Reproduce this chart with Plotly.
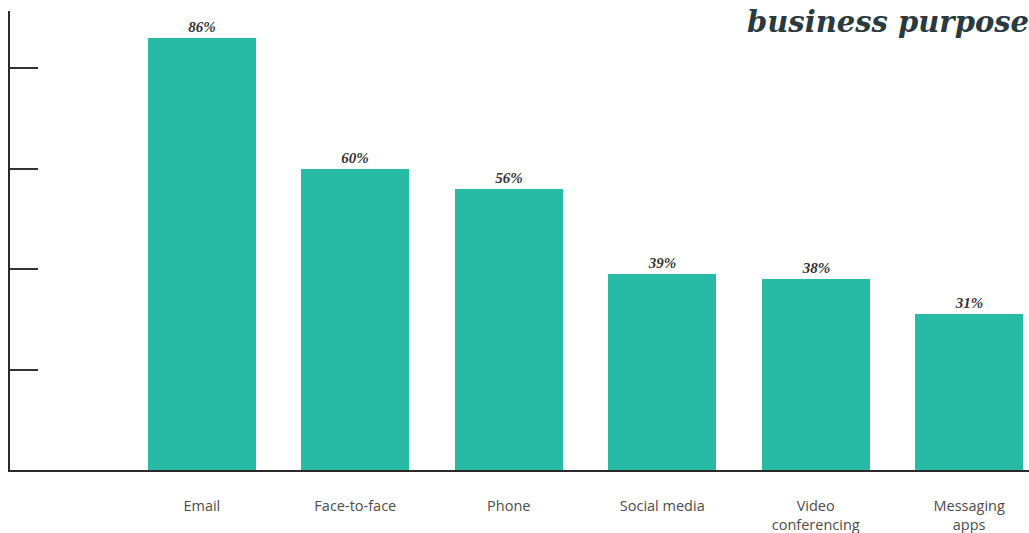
import plotly.graph_objects as go

categories = ["Email", "Face-to-face", "Phone", "Social media", "Video conferencing", "Messaging apps"]
tick_labels = ["Email", "Face-to-face", "Phone", "Social media", "Video<br>conferencing", "Messaging<br>apps"]
values = [86, 60, 56, 39, 38, 31]
y_ticks = [20, 40, 60, 80]

fig = go.Figure()
fig.add_trace(go.Bar(
    x=list(range(len(categories))),
    y=values,
    width=0.704,
    marker=dict(color="#27BBA5", line=dict(width=0)),
    text=[f"{v}%" for v in values],
    textposition="outside",
    textfont=dict(family="Liberation Serif", size=15, color="#333333", style="italic", weight="bold"),
    cliponaxis=False,
))

fig.update_layout(
    width=1029, height=533,
    margin=dict(l=10, r=0, t=11, b=63),
    plot_bgcolor="white", paper_bgcolor="white",
    showlegend=False,
    bargap=0,
    xaxis=dict(
        range=[-1.25, 5.39],
        tickvals=list(range(len(categories))),
        ticktext=tick_labels,
        showline=True, linecolor="#2a2a2a", linewidth=2,
        ticks="", showgrid=False, zeroline=False,
        tickfont=dict(family="Open Sans", size=14.5, color="#4d4d4d"),
        ticklabelstandoff=22,
        automargin=False,
    ),
    yaxis=dict(
        range=[0, 91.4],
        tickvals=y_ticks,
        showticklabels=False,
        ticks="inside", ticklen=28, tickwidth=2, tickcolor="#333333",
        showline=True, linecolor="#2a2a2a", linewidth=2,
        showgrid=False, zeroline=False,
        automargin=False,
    ),
    annotations=[dict(
        text="<b><i>business purpose</i></b>",
        xref="paper", yref="paper", x=0.7213, y=0.976,
        xanchor="left", yanchor="middle", showarrow=False,
        font=dict(family="DejaVu Serif", size=29, color="#2b3a3f"),
    )],
)

fig.write_html(
    "out.html",
    config={"displayModeBar": False},
    post_script="document.body.style.margin='0';document.body.style.overflow='hidden';",
)
